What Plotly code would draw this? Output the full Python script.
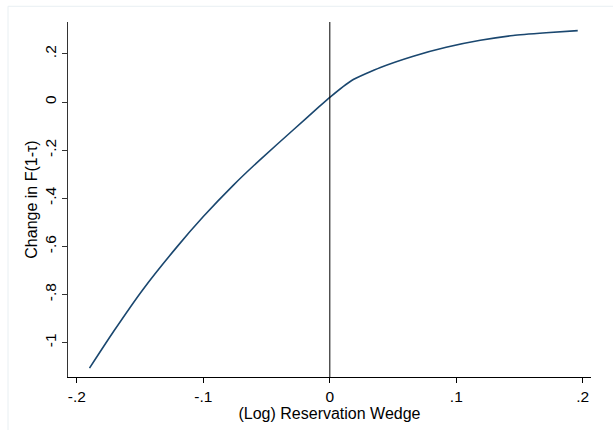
import plotly.graph_objects as go

# Data
wedge = [-0.190, -0.171, -0.148, -0.121, -0.100, -0.076, -0.055, -0.029, -0.008,
         0.000, 0.017, 0.040, 0.066, 0.092, 0.119, 0.145, 0.171, 0.196]
change = [-1.106, -0.954, -0.781, -0.603, -0.476, -0.344, -0.239, -0.116, -0.017,
          0.020, 0.089, 0.144, 0.191, 0.228, 0.257, 0.277, 0.288, 0.297]

x_ticks = [-0.2, -0.1, 0.0, 0.1, 0.2]
x_ticklabels = ["-.2", "-.1", "0", ".1", ".2"]
y_ticks = [0.2, 0.0, -0.2, -0.4, -0.6, -0.8, -1.0]
y_ticklabels = [".2", "0", "-.2", "-.4", "-.6", "-.8", "-1"]

W, H = 613, 430
ml, mr, mt, mb = 68, 22, 22, 47
pw, ph = W - ml - mr, H - mt - mb

fig = go.Figure()
fig.add_trace(go.Scatter(
    x=wedge, y=change, mode="lines",
    line=dict(color="#1a476f", width=1.6, shape="spline", smoothing=0.5),
    showlegend=False, hoverinfo="skip"))

fig.add_shape(type="line", xref="x", yref="paper", x0=0, x1=0, y0=0, y1=1,
              line=dict(color="black", width=1))

# faint outer frame
bx = (8 - ml) / pw
by = (H - mb - 6) / ph
fig.add_shape(type="line", xref="paper", yref="paper", x0=bx, x1=1.2, y0=by, y1=by,
              line=dict(color="#e8eff2", width=1))
fig.add_shape(type="line", xref="paper", yref="paper", x0=bx, x1=bx, y0=-0.3, y1=by,
              line=dict(color="#e8eff2", width=1))

tickfont = dict(family="Liberation Sans, Arial, sans-serif", size=15.5, color="black")
titlefont = dict(family="Liberation Sans, Arial, sans-serif", size=16, color="black")

fig.update_layout(
    width=W, height=H,
    margin=dict(l=ml, r=mr, t=mt, b=mb),
    paper_bgcolor="white", plot_bgcolor="white",
    font=titlefont,
    xaxis=dict(
        range=[-0.207, 0.2065], tickvals=x_ticks, ticktext=x_ticklabels,
        showgrid=False, zeroline=False, showline=True, linecolor="black", linewidth=1,
        ticks="outside", ticklen=5, tickcolor="black", tickfont=tickfont,
        title=dict(text="(Log) Reservation Wedge", font=titlefont, standoff=2),
    ),
    yaxis=dict(
        range=[-1.143, 0.333], tickvals=y_ticks, ticktext=y_ticklabels,
        showgrid=False, zeroline=False, showline=True, linecolor="#333333", linewidth=1,
        ticks="outside", ticklen=5, tickcolor="#333333", tickfont=tickfont, tickangle=-90,
        title=dict(text="Change in F(1-τ)", font=titlefont, standoff=0),
    ),
)

fig.write_html("out.html")
